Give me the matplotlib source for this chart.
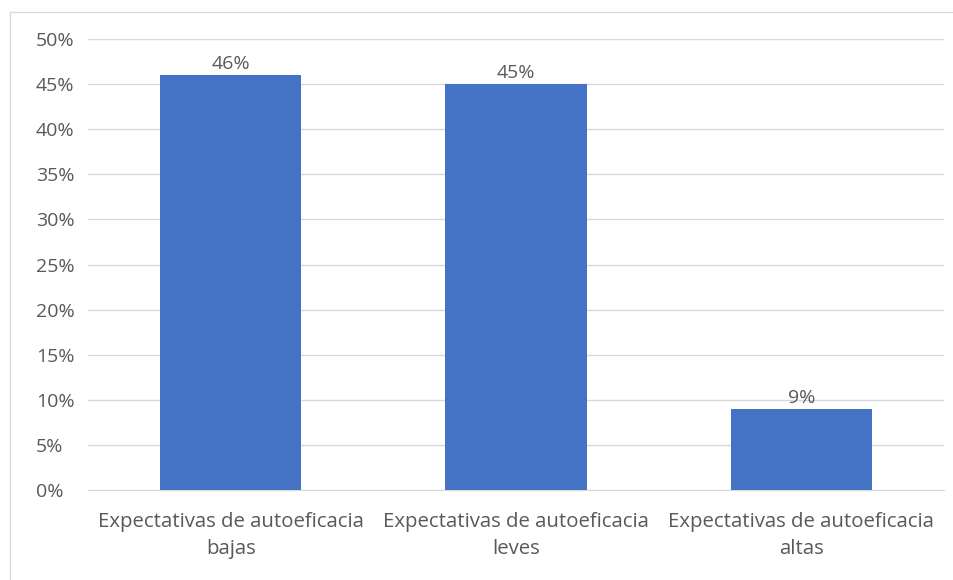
import matplotlib.pyplot as plt
from matplotlib.patches import Rectangle

categorias = ["Expectativas de autoeficacia\nbajas",
              "Expectativas de autoeficacia\nleves",
              "Expectativas de autoeficacia\naltas"]
valores = [46, 45, 9]
etiquetas = ["46%", "45%", "9%"]
yticks = [0, 5, 10, 15, 20, 25, 30, 35, 40, 45, 50]

plt.rcParams['font.family'] = ['Open Sans', 'DejaVu Sans']
gris = "#595959"

fig = plt.figure(figsize=(9.54, 5.8), dpi=100)
# marco del area del grafico
fig.patches.append(Rectangle((10/954, -0.1), 1.0, 1 - 12/580 + 0.1, transform=fig.transFigure,
                             fill=False, edgecolor="#d9d9d9", linewidth=1))
ax = fig.add_axes([88/954, 1 - 490/580, (944 - 88)/954, (490 - 39)/580])

x = range(len(valores))
barras = ax.bar(x, valores, width=0.495, color="#4472C4", zorder=3)
for b, e in zip(barras, etiquetas):
    ax.text(b.get_x() + b.get_width()/2, b.get_height() + 0.2, e,
            ha="center", va="bottom", fontsize=14, color=gris)

ax.set_xlim(-0.5, 2.5)
ax.set_ylim(0, 50)
ax.set_yticks(yticks)
ax.set_yticklabels([f"{v}%" for v in yticks], fontsize=14, color=gris, ha="left")
ax.set_xticks(list(x))
ax.set_xticklabels(categorias, fontsize=14.7, color=gris, linespacing=1.48)
ax.tick_params(length=0)
ax.tick_params(axis="y", pad=37.4)
ax.tick_params(axis="x", pad=16)
ax.grid(axis="y", color="#d9d9d9", linewidth=1, zorder=0)
for s in ["top", "right", "left"]:
    ax.spines[s].set_visible(False)
ax.spines["bottom"].set_color("#d9d9d9")

fig.savefig("out.png", dpi=100)
